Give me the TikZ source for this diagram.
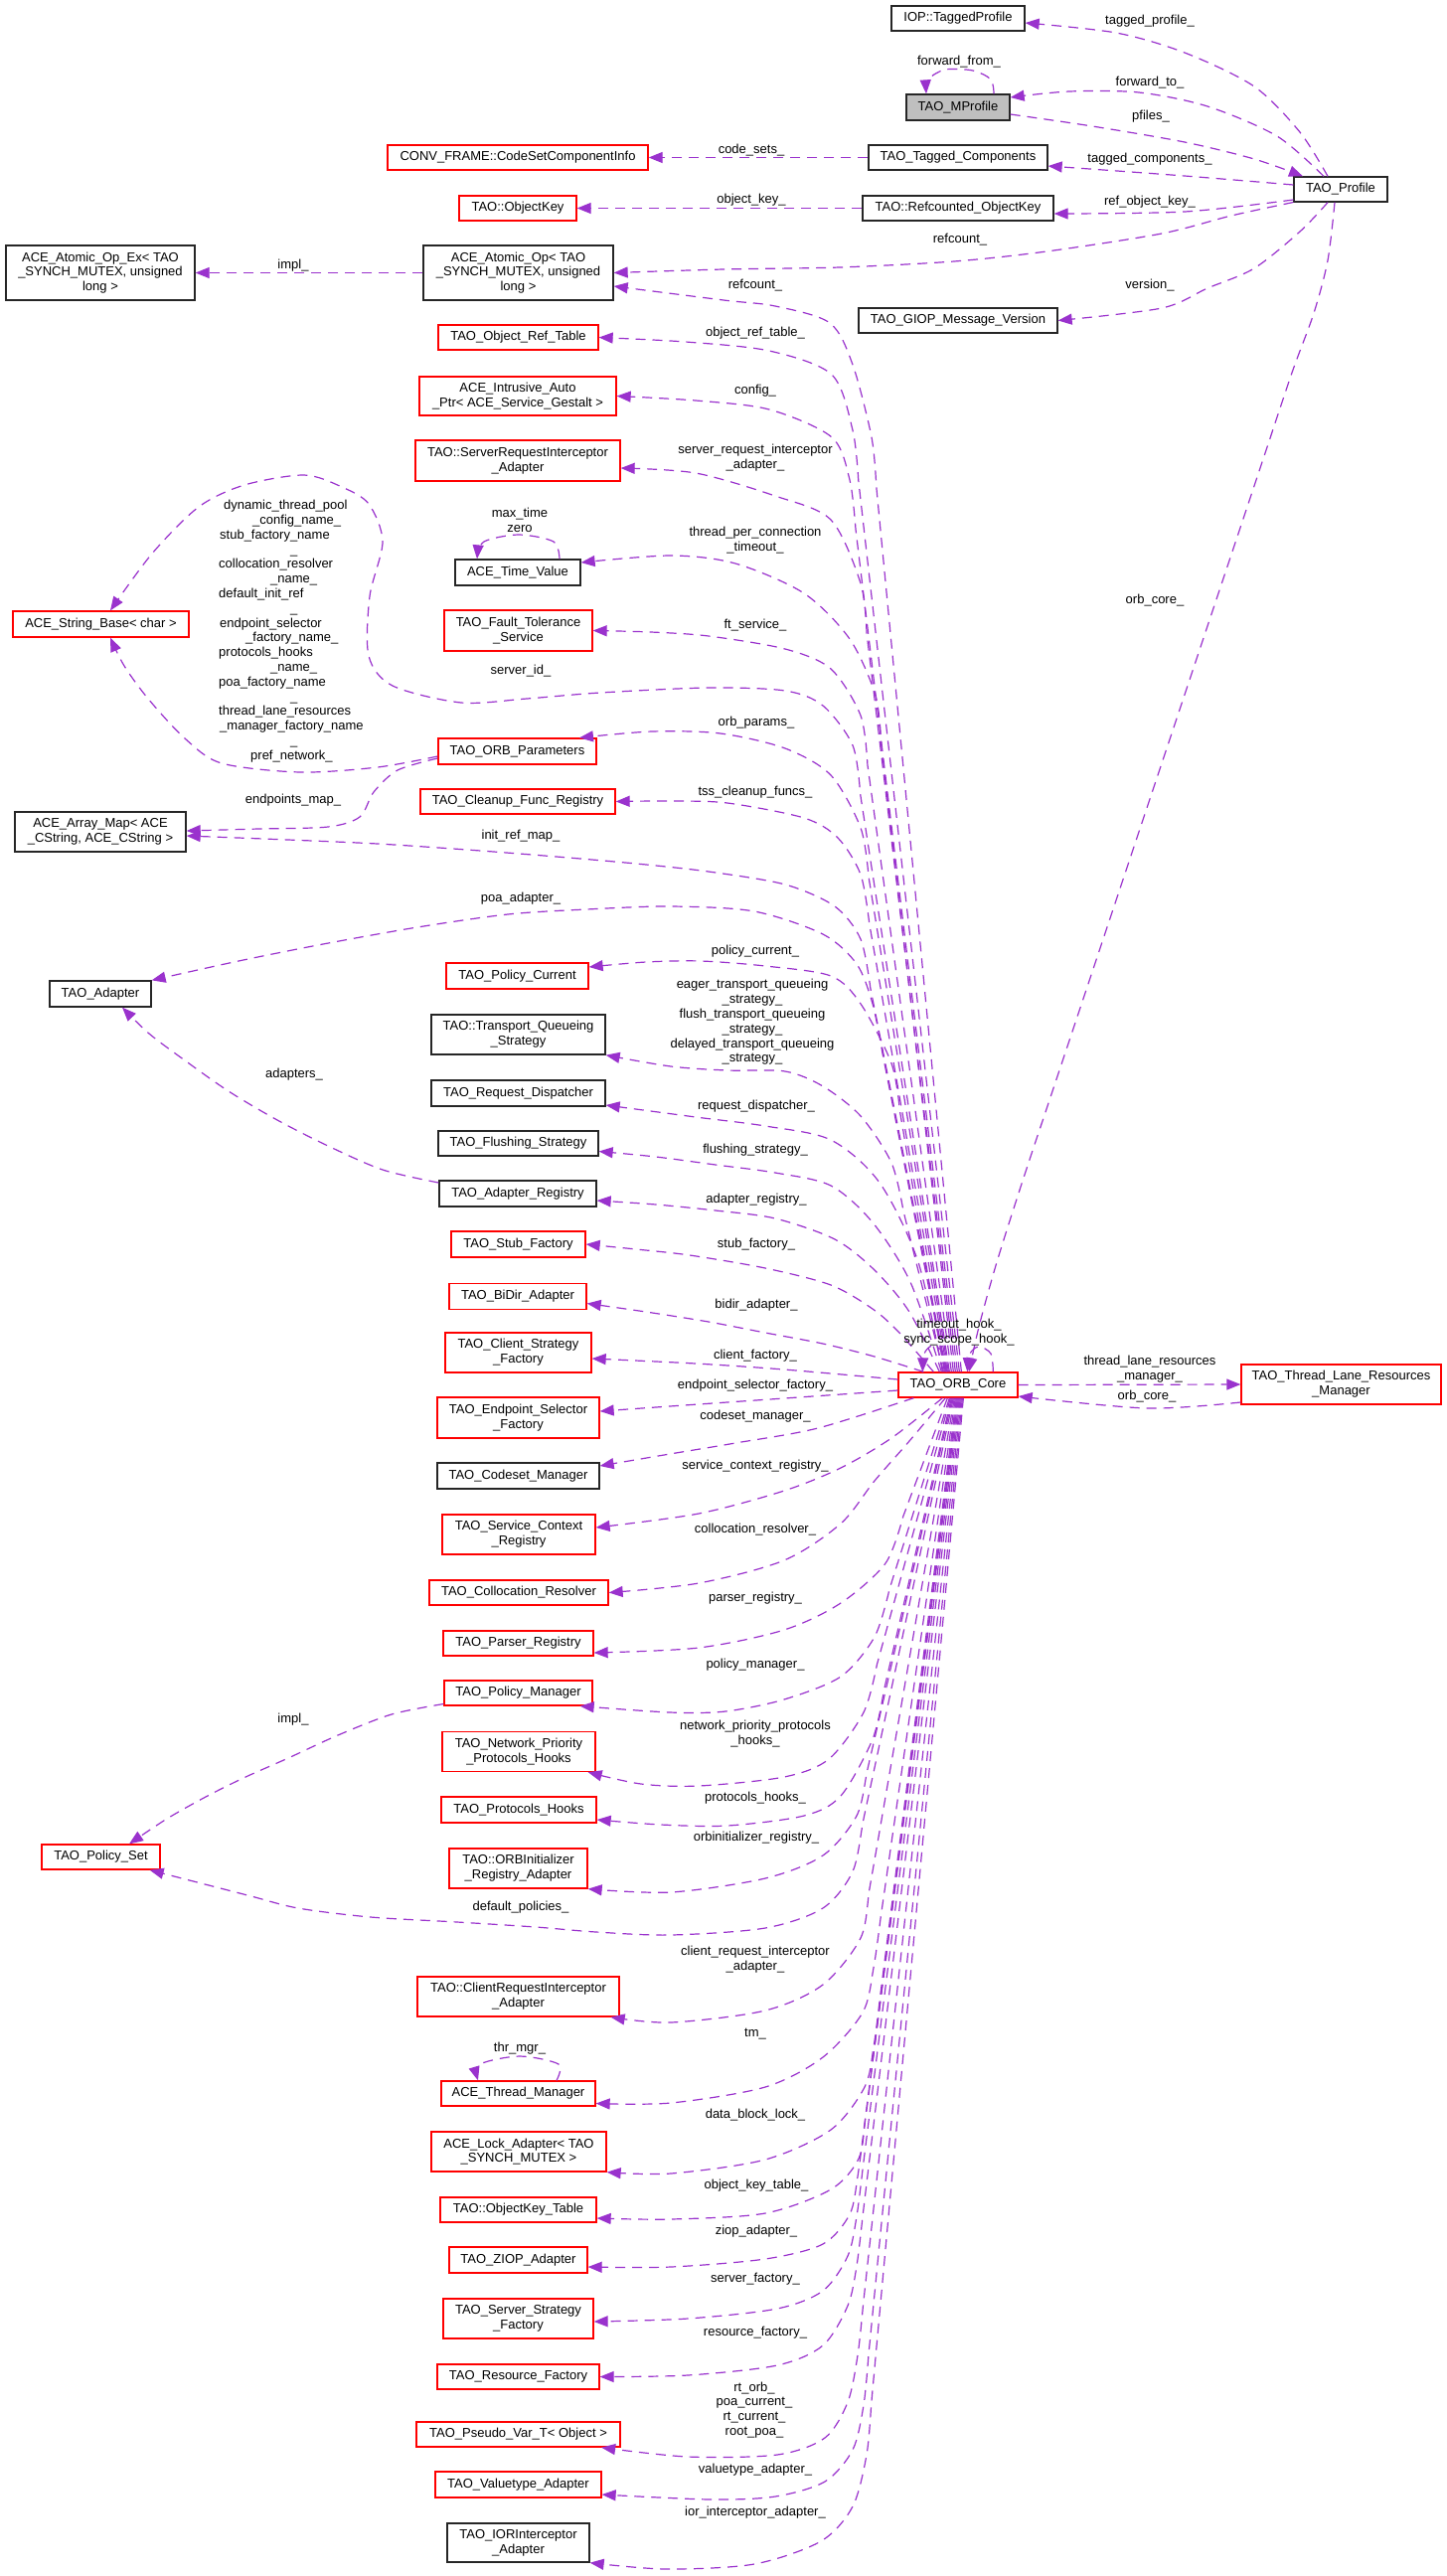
\documentclass[tikz,border=0pt]{standalone}
\usepackage{fontspec}
\setmainfont{Liberation Sans}
\usetikzlibrary{arrows.meta}
\definecolor{ec}{HTML}{9A32CD}
\definecolor{rb}{HTML}{FF0000}
\definecolor{gf}{HTML}{BFBFBF}
\begin{document}
\begin{tikzpicture}[x=1pt,y=-1pt,
  txt/.style={font=\fontsize{13}{14.8}\selectfont},
  wh/.style 2 args={minimum width=#1pt,minimum height=#2pt},
  box/.style={txt,draw,line width=1.3pt,inner sep=0pt,align=center,fill=white},
  rbox/.style={box,draw=rb},
  kbox/.style={box,draw=black!85},
  lab/.style={txt,inner sep=0pt,align=center},
  e/.style={draw=ec,line width=1.2pt,dash pattern=on 10pt off 7pt,-{Triangle[length=14pt,width=11pt]}},
  sm/.style={smooth,tension=0.5}]
\fill[white] (0,0) rectangle (1456,2592);
\useasboundingbox (0,0) rectangle (1456,2592);
% ---------------- nodes
\node[kbox,wh={134}{25}] (iop) at (964,18.5) {IOP::TaggedProfile};
\node[kbox,wh={104}{26},fill=gf] (mprof) at (964,108) {TAO\_MProfile};
\node[kbox,wh={180}{25}] (tagc) at (964,158.5) {TAO\_Tagged\_Components};
\node[kbox,wh={192}{25}] (refok) at (964,209.5) {TAO::Refcounted\_ObjectKey};
\node[kbox,wh={200}{25}] (giop) at (964,322.5) {TAO\_GIOP\_Message\_Version};
\node[kbox,wh={94}{25}] (prof) at (1349,190.5) {TAO\_Profile};
\node[rbox,wh={262}{25}] (conv) at (521,158.5) {CONV\_FRAME::CodeSetComponentInfo};
\node[rbox,wh={118}{25}] (okey) at (521,209.5) {TAO::ObjectKey};
\node[kbox,wh={190}{55}] (atomex) at (101,274.5) {ACE\_Atomic\_Op\_Ex< TAO\\\_SYNCH\_MUTEX, unsigned\\long >};
\node[kbox,wh={191}{55}] (atom) at (521.5,274.5) {ACE\_Atomic\_Op< TAO\\\_SYNCH\_MUTEX, unsigned\\long >};
\node[rbox,wh={161}{25}] (objref) at (521.5,339.5) {TAO\_Object\_Ref\_Table};
\node[rbox,wh={198}{39}] (intr) at (521,398.5) {ACE\_Intrusive\_Auto\\\_Ptr< ACE\_Service\_Gestalt >};
\node[rbox,wh={206}{41}] (sria) at (521,463.5) {TAO::ServerRequestInterceptor\\\_Adapter};
\node[kbox,wh={126}{26}] (tv) at (521,576) {ACE\_Time\_Value};
\node[rbox,wh={177}{26}] (sb) at (101.5,628) {ACE\_String\_Base< char >};
\node[rbox,wh={149}{41}] (ft) at (521.5,634.5) {TAO\_Fault\_Tolerance\\\_Service};
\node[rbox,wh={159}{26}] (orbp) at (520.5,756) {TAO\_ORB\_Parameters};
\node[rbox,wh={196}{25}] (clean) at (521,806.5) {TAO\_Cleanup\_Func\_Registry};
\node[kbox,wh={172}{40}] (amap) at (101,837) {ACE\_Array\_Map< ACE\\\_CString, ACE\_CString >};
\node[kbox,wh={102}{26}] (adapter) at (101,1000) {TAO\_Adapter};
\node[rbox,wh={143}{26}] (pcur) at (520.5,982) {TAO\_Policy\_Current};
\node[kbox,wh={175}{40}] (tqs) at (521.5,1041) {TAO::Transport\_Queueing\\\_Strategy};
\node[kbox,wh={175}{26}] (rd) at (521.5,1100) {TAO\_Request\_Dispatcher};
\node[kbox,wh={161}{25}] (fs) at (521.5,1150.5) {TAO\_Flushing\_Strategy};
\node[kbox,wh={158}{26}] (areg) at (521,1201) {TAO\_Adapter\_Registry};
\node[rbox,wh={135}{26}] (stub) at (521.5,1252) {TAO\_Stub\_Factory};
\node[rbox,wh={138}{26}] (bidir) at (521,1304.5) {TAO\_BiDir\_Adapter};
\node[rbox,wh={147}{40}] (csf) at (521.5,1361) {TAO\_Client\_Strategy\\\_Factory};
\node[rbox,wh={163}{41}] (esf) at (521.5,1426.5) {TAO\_Endpoint\_Selector\\\_Factory};
\node[kbox,wh={163}{26}] (csm) at (521.5,1485) {TAO\_Codeset\_Manager};
\node[rbox,wh={154}{40}] (scr) at (522,1544) {TAO\_Service\_Context\\\_Registry};
\node[rbox,wh={180}{25}] (colr) at (522,1602.5) {TAO\_Collocation\_Resolver};
\node[rbox,wh={151}{25}] (parse) at (521.5,1653.5) {TAO\_Parser\_Registry};
\node[rbox,wh={149}{25}] (pman) at (521.5,1703.5) {TAO\_Policy\_Manager};
\node[rbox,wh={154}{40}] (npph) at (522,1762.5) {TAO\_Network\_Priority\\\_Protocols\_Hooks};
\node[rbox,wh={156}{26}] (ph) at (522,1821) {TAO\_Protocols\_Hooks};
\node[rbox,wh={139}{40}] (orbi) at (521.5,1880) {TAO::ORBInitializer\\\_Registry\_Adapter};
\node[rbox,wh={119}{25}] (pset) at (101.5,1868.5) {TAO\_Policy\_Set};
\node[rbox,wh={203}{40}] (cria) at (521.5,2009) {TAO::ClientRequestInterceptor\\\_Adapter};
\node[rbox,wh={155}{25}] (thrm) at (521.5,2106.5) {ACE\_Thread\_Manager};
\node[rbox,wh={176}{40}] (lock) at (522,2165) {ACE\_Lock\_Adapter< TAO\\\_SYNCH\_MUTEX >};
\node[rbox,wh={157}{25}] (okt) at (521.5,2223.5) {TAO::ObjectKey\_Table};
\node[rbox,wh={139}{26}] (ziop) at (521.5,2274) {TAO\_ZIOP\_Adapter};
\node[rbox,wh={151}{40}] (ssf) at (521.5,2333) {TAO\_Server\_Strategy\\\_Factory};
\node[rbox,wh={163}{25}] (rf) at (521.5,2391.5) {TAO\_Resource\_Factory};
\node[rbox,wh={205}{25}] (pv) at (521.5,2449.5) {TAO\_Pseudo\_Var\_T< Object >};
\node[rbox,wh={167}{26}] (vt) at (521.5,2500) {TAO\_Valuetype\_Adapter};
\node[kbox,wh={143}{39}] (ior) at (521.5,2558.5) {TAO\_IORInterceptor\\\_Adapter};
\node[rbox,wh={120}{25}] (core) at (964,1393.5) {TAO\_ORB\_Core};
\node[rbox,wh={201}{40}] (tlrm) at (1349.5,1393) {TAO\_Thread\_Lane\_Resources\\\_Manager};
% ---------------- profile area edges
\draw[e] plot[sm] coordinates {([xshift=-13pt]prof.north) (1308,133) (1262,87) (1192,53) (1123,33) ([yshift=-4.5pt]iop.east)};
\draw[e] plot[sm] coordinates {([xshift=-17pt]prof.north) (1285,137) (1215,107) (1146,93) (1076,92) ([yshift=10pt]mprof.east)};
\draw[e] plot[sm] coordinates {([yshift=-7pt]mprof.east) (1099,127) (1192,143) (1262,160) ([xshift=-38pt]prof.north)};
\draw[e] plot[sm] coordinates {([xshift=36pt]mprof.north) (997,80) (979,71) (951,70) (934,80) ([xshift=-32pt]mprof.north)};
\draw[e] plot[sm] coordinates {([yshift=4.5pt]prof.west) (1192,177) ([yshift=-8.5pt]tagc.east)};
\draw[e] plot[sm] coordinates {([yshift=-10.5pt]prof.west) (1192,213) ([yshift=-5.5pt]refok.east)};
\draw[e] plot[sm] coordinates {([yshift=-13pt]prof.west) (1239,217) (1169,235) (1053,253) (960,263) (845,269) (728,271) (atom.east)};
\draw[e] plot[sm] coordinates {([xshift=-13pt]prof.south) (1308,233) (1262,270) (1215,290) (1169,310) (giop.east)};
\draw[e] plot[sm] coordinates {([xshift=-6pt]prof.south) (1336,262) (1322,315) (1300,375) (1270,465) (1240,555) (1210,645) (1180,735) (1150,825) (1120,915) (1090,1005) (1060,1095) (1030,1185) (1003,1270) (985,1335) ([xshift=11pt]core.north)};
\draw[e] (tagc.west) -- (conv.east);
\draw[e] (refok.west) -- (okey.east);
\draw[e] (atom.west) -- (atomex.east);
\draw[e] (core.east) -- (tlrm.west);
\draw[e] plot[sm] coordinates {([yshift=-18pt]tlrm.west) (1154,1417) ([yshift=-11.5pt]core.east)};
% ---------------- core to upper boxes
\draw[e] ([xshift=64pt]core.north west) -- plot[sm] coordinates {(881.8,489.8) (877,440) (858,367) (835,325) (780,308) (728,302) ([yshift=-13.5pt]atom.east)};
\draw[e] ([xshift=62pt]core.north west) -- plot[sm] coordinates {(863.7,482.7) (858,433) (837,377) (774,353) (690,344) (objref.east)};
\draw[e] ([xshift=60pt]core.north west) -- plot[sm] coordinates {(861,532.6) (855,483) (837,440) (774,412) (700,403) (intr.east)};
\draw[e] ([xshift=58pt]core.north west) -- plot[sm] coordinates {(872,636.6) (866,587) (836,523) (780,499) (700,476) ([yshift=-7.5pt]sria.east)};
\draw[e] ([xshift=56pt]core.north west) -- plot[sm] coordinates {(886.8,749.7) (881,700) (855,643) (809,597) (740,567) (675,559) ([yshift=10pt]tv.east)};
\draw[e] ([xshift=54pt]core.north west) -- plot[sm] coordinates {(872.9,769.5) (866,720) (836,673) (790,653) (713,640) (655,636) (ft.east)};
\draw[e] ([xshift=52pt]core.north west) -- plot[sm] coordinates {(865.7,799.4) (858,750) (828,710) (790,695) (713,692) (604,697) (530,703) (464,707) (395,690) (371,660) (372,600) (385,545) (371,507) (344,490) (306,478) (246,488) (200,510) (153,557) ([xshift=9.5pt]sb.north)};
\draw[e] ([xshift=51pt]core.north west) -- plot[sm] coordinates {(874,882) (866,833) (836,780) (790,753) (725,738) (656,736) ([xshift=62.5pt]orbp.north)};
\draw[e] ([xshift=50pt]core.north west) -- plot[sm] coordinates {(874.7,929) (866,880) (843,843) (809,823) (732,808) (675,806) (clean.east)};
\draw[e] ([xshift=49pt]core.north west) -- plot[sm] coordinates {(875.8,994) (866,945) (840,912) (790,890) (713,877) (640,869) (560,862) (470,855) (380,849) (290,845) ([yshift=-4pt]amap.east)};
\draw[e] ([xshift=48pt]core.north west) -- plot[sm] coordinates {(887.8,1059) (878,1010) (862,970) (828,940) (759,917) (675,912) (590,915) (511,920) (420,933) (325,950) (240,967) (adapter.north east)};
\draw[e] ([xshift=47pt]core.north west) -- plot[sm] coordinates {(905.6,1119) (897,1070) (866,1010) (836,982) (770,972) (705,967) (650,968) ([yshift=9pt]pcur.east)};
\draw[e] ([xshift=46pt]core.north west) -- plot[sm] coordinates {(909,1218.5) (897,1170) (866,1123) (828,1093) (790,1078) (732,1077) (675,1073) (tqs.south east)};
\draw[e] plot[sm] coordinates {([xshift=45pt]core.north west) (924,1270) (885,1190) (836,1147) (770,1133) (700,1124) ([yshift=-12pt]rd.east)};
\draw[e] plot[sm] coordinates {([xshift=44pt]core.north west) (916,1290) (878,1230) (836,1193) (780,1180) (720,1172) (660,1164) ([yshift=-8pt]fs.east)};
\draw[e] plot[sm] coordinates {([xshift=42pt]core.north west) (915,1320) (880,1278) (840,1247) (780,1226) (720,1218) (660,1212) ([yshift=-7pt]areg.east)};
\draw[e] plot[sm] coordinates {([xshift=36pt]core.north west) (904,1340) (878,1317) (836,1293) (770,1276) (694,1263) (640,1257) (stub.east)};
\draw[e] plot[sm] coordinates {([xshift=26pt]core.north west) (880,1365) (828,1352) (770,1341) (713,1330) (650,1320) ([yshift=-7pt]bidir.east)};
% ---------------- core level
\draw[e] plot[sm] coordinates {([yshift=5.5pt]core.west) (789,1378) (700,1372) ([yshift=-6pt]csf.east)};
\draw[e] plot[sm] coordinates {([yshift=-5.5pt]core.west) (789,1407) (674,1415) ([yshift=6.5pt]esf.east)};
\draw[e] plot[sm] coordinates {([xshift=16pt]core.south west) (823,1437) (740,1452) (674,1463) ([yshift=10pt]csm.east)};
% ---------------- core to lower boxes
\draw[e] plot[sm] coordinates {([xshift=45pt]core.south west) (897,1447) (846,1477) (789,1500) (703,1523) ([yshift=7pt]scr.east)};
\draw[e] plot[sm] coordinates {([xshift=48pt]core.south west) (915,1450) (880,1490) (846,1533) (789,1570) (703,1593) (colr.east)};
\draw[e] ([xshift=50pt]core.south west) -- plot[sm] coordinates {(908.7,1526) (891,1573) (846,1613) (789,1640) (703,1658) ([yshift=-9.5pt]parse.east)};
\draw[e] ([xshift=52pt]core.south west) -- plot[sm] coordinates {(895,1599) (880,1647) (846,1687) (789,1710) (730,1722) (674,1723) ([xshift=-13pt]pman.south east)};
\draw[e] ([xshift=53pt]core.south west) -- plot[sm] coordinates {(882.4,1674.9) (869,1723) (834,1770) (789,1788) (703,1797) (645,1795) ([xshift=-8pt]npph.south east)};
\draw[e] ([xshift=54pt]core.south west) -- plot[sm] coordinates {(889.3,1701.3) (878,1750) (846,1807) (809,1827) (732,1837) (665,1836) ([yshift=-10pt]ph.east)};
\draw[e] ([xshift=55pt]core.south west) -- plot[sm] coordinates {(884.2,1731.3) (873,1780) (862,1827) (828,1867) (770,1890) (675,1904) (orbi.south east)};
\draw[e] ([xshift=56pt]core.south west) -- plot[sm] coordinates {(879.5,1781) (869,1830) (858,1883) (828,1920) (770,1940) (675,1947) (600,1944) (539,1939) (460,1934) (373,1929) (300,1920) (249,1907) ([xshift=-11pt]pset.south east)};
\draw[e] ([xshift=57pt]core.south west) -- plot[sm] coordinates {(883.6,1850.8) (875,1900) (866,1950) (828,1997) (770,2023) (675,2035) ([xshift=-9pt]cria.south east)};
\draw[e] ([xshift=58pt]core.south west) -- plot[sm] coordinates {(886,1930.5) (879,1980) (868,2025) (828,2070) (770,2100) (675,2116) ([yshift=-10pt]thrm.east)};
\draw[e] ([xshift=59pt]core.south west) -- plot[sm] coordinates {(885.4,2010.4) (879,2060) (870,2100) (836,2143) (770,2173) (675,2187) (lock.south east)};
\draw[e] ([xshift=60pt]core.south west) -- plot[sm] coordinates {(877.4,2080.4) (871,2130) (864,2172) (836,2203) (770,2227) (675,2233) ([yshift=-8.5pt]okt.east)};
\draw[e] ([xshift=61pt]core.south west) -- plot[sm] coordinates {(869.5,2140.4) (863,2190) (855,2228) (828,2258) (770,2273) (675,2281) ([yshift=-7pt]ziop.east)};
\draw[e] ([xshift=62pt]core.south west) -- plot[sm] coordinates {(868.3,2180.4) (862,2230) (853,2270) (828,2305) (782,2323) (692,2333) ([yshift=-3pt]ssf.east)};
\draw[e] ([xshift=63pt]core.south west) -- plot[sm] coordinates {(868,2230.4) (862,2280) (853,2320) (828,2360) (782,2380) (692,2390) (rf.east)};
\draw[e] ([xshift=64pt]core.south west) -- plot[sm] coordinates {(868.4,2320.3) (863,2370) (853,2417) (830,2453) (782,2470) (692,2472) ([xshift=-19.5pt]pv.south east)};
\draw[e] ([xshift=65pt]core.south west) -- plot[sm] coordinates {(873.9,2370.2) (869,2420) (858,2465) (830,2497) (780,2512) (715,2515) ([yshift=-10pt]vt.east)};
\draw[e] ([xshift=66pt]core.south west) -- plot[sm] coordinates {(876.6,2420.2) (872,2470) (858,2522) (826,2557) (759,2580) (670,2585) (ior.south east)};
% ---------------- core self loops
\draw[e] plot[sm] coordinates {([xshift=49pt]core.north west) (948,1360) (938,1354) (930,1362) ([xshift=25pt]core.north west)};
\draw[e] plot[sm] coordinates {([xshift=96pt]core.north west) (997,1362) (985,1355) (976,1362) ([xshift=70pt]core.north west)};
% ---------------- other edges
\draw[e] plot[sm] coordinates {([yshift=-5pt]orbp.west) (380,772) (302,777) (223,768) (186,743) (149,703) (125,670) ([xshift=9.5pt]sb.south)};
\draw[e] plot[sm] coordinates {([yshift=-7pt]orbp.west) (400,775) (376,797) (362,822) (330,832) (260,834) ([yshift=1pt]amap.east)};
\draw[e] plot[sm] coordinates {([yshift=11pt]areg.west) (385,1177) (330,1153) (279,1127) (230,1098) (186,1067) (150,1040) ([xshift=22pt]adapter.south)};
\draw[e] plot[sm] coordinates {([yshift=-11pt]pman.west) (394,1725) (340,1746) (290,1769) (245,1789) (207,1808) (168,1830) ([xshift=28.5pt]pset.north)};
\draw[e] plot[sm] coordinates {([xshift=42pt]tv.north) (557,545) (522,538) (487,545) ([xshift=-41pt]tv.north)};
\draw[e] plot[sm] coordinates {([xshift=38.5pt]thrm.north) (562,2077) (523,2069) (483,2077) ([xshift=-40.5pt]thrm.north)};
% ---------------- labels
\node[lab] (l1) at (1157,21) {tagged\_profile\_};
\node[lab] (l2) at (965,62) {forward\_from\_};
\node[lab] (l3) at (1157,83) {forward\_to\_};
\node[lab] (l4) at (1158,117) {pfiles\_};
\node[lab] (l5) at (756,151) {code\_sets\_};
\node[lab] (l6) at (1157,160) {tagged\_components\_};
\node[lab] (l7) at (756,201) {object\_key\_};
\node[lab] (l8) at (1157,203) {ref\_object\_key\_};
\node[lab] (l9) at (966,241) {refcount\_};
\node[lab] (l10) at (295,267) {impl\_};
\node[lab] (l11) at (760,287) {refcount\_};
\node[lab] (l12) at (1157,287) {version\_};
\node[lab] (l13) at (760,335) {object\_ref\_table\_};
\node[lab] (l14) at (760,393) {config\_};
\node[lab] (l15) at (760,460.5) {server\_request\_interceptor\\\_adapter\_};
\node[lab] (l16) at (523,523.5) {max\_time\\zero};
\node[lab] (l17) at (760,543.5) {thread\_per\_connection\\\_timeout\_};
\node[txt,inner sep=0pt,align=left,anchor=north west] (l18) at (220,503) {\hspace*{5pt}dynamic\_thread\_pool\\\hspace*{34pt}\_config\_name\_\\\hspace*{1pt}stub\_factory\_name\\\hspace*{72pt}\_\\collocation\_resolver\\\hspace*{52pt}\_name\_\\default\_init\_ref\\\hspace*{72pt}\_\\\hspace*{1pt}endpoint\_selector\\\hspace*{27pt}\_factory\_name\_\\protocols\_hooks\\\hspace*{52pt}\_name\_\\poa\_factory\_name\\\hspace*{72pt}\_\\thread\_lane\_resources\\\hspace*{1pt}\_manager\_factory\_name\\\hspace*{72pt}\_\\\hspace*{32pt}pref\_network\_};
\node[lab] (l19) at (1162,604) {orb\_core\_};
\node[lab] (l20) at (760,629) {ft\_service\_};
\node[lab] (l21) at (524,675) {server\_id\_};
\node[lab] (l22) at (761,727) {orb\_params\_};
\node[lab] (l23) at (760,797) {tss\_cleanup\_funcs\_};
\node[lab] (l24) at (295,805) {endpoints\_map\_};
\node[lab] (l25) at (524,841) {init\_ref\_map\_};
\node[lab] (l26) at (524,904) {poa\_adapter\_};
\node[lab] (l27) at (760,957) {policy\_current\_};
\node[lab] (l28) at (757,1028.5) {eager\_transport\_queueing\\\_strategy\_\\flush\_transport\_queueing\\\_strategy\_\\delayed\_transport\_queueing\\\_strategy\_};
\node[lab] (l29) at (296,1081) {adapters\_};
\node[lab] (l30) at (761,1113) {request\_dispatcher\_};
\node[lab] (l31) at (760,1157) {flushing\_strategy\_};
\node[lab] (l32) at (761,1207) {adapter\_registry\_};
\node[lab] (l33) at (761,1252) {stub\_factory\_};
\node[lab] (l34) at (761,1313) {bidir\_adapter\_};
\node[lab] (l35) at (965,1340.5) {timeout\_hook\_\\sync\_scope\_hook\_};
\node[lab] (l36) at (760,1364) {client\_factory\_};
\node[lab] (l37) at (1157,1378) {thread\_lane\_resources\\\_manager\_};
\node[lab] (l38) at (760,1394) {endpoint\_selector\_factory\_};
\node[lab] (l39) at (1154,1405) {orb\_core\_};
\node[lab] (l40) at (760,1425) {codeset\_manager\_};
\node[lab] (l41) at (760,1475) {service\_context\_registry\_};
\node[lab] (l42) at (760,1539) {collocation\_resolver\_};
\node[lab] (l43) at (760,1608) {parser\_registry\_};
\node[lab] (l44) at (760,1675) {policy\_manager\_};
\node[lab] (l45) at (295,1730) {impl\_};
\node[lab] (l46) at (760,1744.5) {network\_priority\_protocols\\\_hooks\_};
\node[lab] (l47) at (760,1809) {protocols\_hooks\_};
\node[lab] (l48) at (761,1849) {orbinitializer\_registry\_};
\node[lab] (l49) at (524,1919) {default\_policies\_};
\node[lab] (l50) at (760,1972) {client\_request\_interceptor\\\_adapter\_};
\node[lab] (l51) at (760,2047) {tm\_};
\node[lab] (l52) at (523,2061) {thr\_mgr\_};
\node[lab] (l53) at (760,2128) {data\_block\_lock\_};
\node[lab] (l54) at (761,2199) {object\_key\_table\_};
\node[lab] (l55) at (761,2245) {ziop\_adapter\_};
\node[lab] (l56) at (760,2293) {server\_factory\_};
\node[lab] (l57) at (760,2347) {resource\_factory\_};
\node[lab] (l58) at (759,2425) {rt\_orb\_\\poa\_current\_\\rt\_current\_\\root\_poa\_};
\node[lab] (l59) at (760,2485) {valuetype\_adapter\_};
\node[lab] (l60) at (760,2528) {ior\_interceptor\_adapter\_};
\end{tikzpicture}
\end{document}
